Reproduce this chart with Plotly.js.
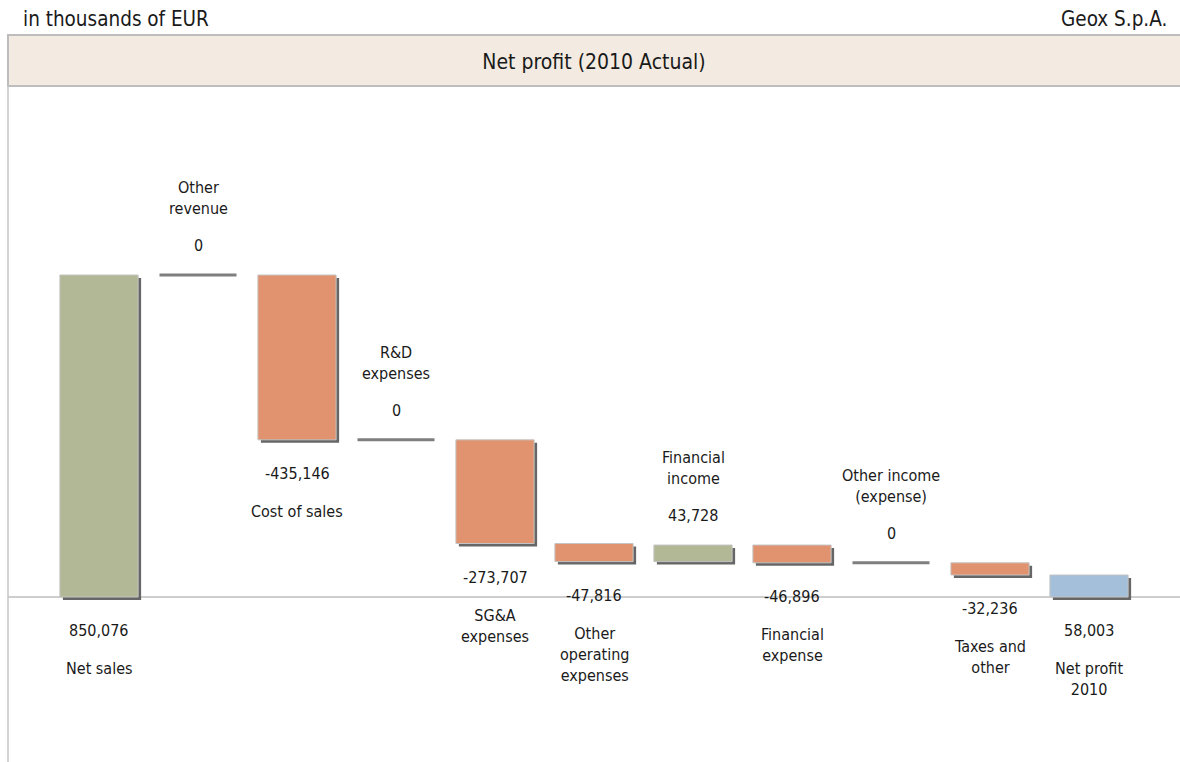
<!DOCTYPE html>
<html>
<head>
<meta charset="utf-8">
<script src="https://cdn.plot.ly/plotly-3.0.1.min.js"></script>
<style>html,body{margin:0;padding:0;background:#fff;}#chart{width:1180px;height:762px;}</style>
</head>
<body>
<div id="chart"></div>
<script>
// ---- data ----
var categories = ['Net sales','Other revenue','Cost of sales','R&D expenses','SG&A expenses',
  'Other operating expenses','Financial income','Financial expense','Other income (expense)',
  'Taxes and other','Net profit 2010'];
var categoryLabels = ['Net sales','Other<br>revenue','Cost of sales','R&D<br>expenses','SG&A<br>expenses',
  'Other<br>operating<br>expenses','Financial<br>income','Financial<br>expense','Other income<br>(expense)',
  'Taxes and<br>other','Net profit<br>2010'];
var values = [850076, 0, -435146, 0, -273707, -47816, 43728, -46896, 0, -32236, 58003];
var measures = ['relative','relative','relative','relative','relative','relative','relative',
  'relative','relative','relative','total'];
var labelSides = ['below','above','below','above','below','below','above','below','above','below','below'];

(function () {
// ---- styles ----
var FONT = '"DejaVu Sans Condensed", "DejaVu Sans", sans-serif';
var COL_UP = '#B2B895', COL_DOWN = '#E1936F', COL_TOTAL = '#A3BFD9';

// ---- derive waterfall geometry from data ----
var bases = [], heights = [], colors = [], levels = [];
var running = 0;
for (var i = 0; i < values.length; i++) {
  var v = values[i];
  if (measures[i] === 'total') {
    bases.push(0); heights.push(running); colors.push(COL_TOTAL); levels.push(running);
  } else {
    bases.push(v >= 0 ? running : running + v);
    heights.push(Math.abs(v) > 0 ? Math.abs(v) : null);
    colors.push(v >= 0 ? COL_UP : COL_DOWN);
    running += v;
    levels.push(running);
  }
}
var zeroX = [], zeroY = [];
for (var j = 0; j < values.length; j++) {
  if (values[j] === 0 && measures[j] !== 'total') { zeroX.push(categories[j]); zeroY.push(levels[j]); }
}

// ---- layout scale ----
var plotTop = 88, plotBottom = 762, zeroPx = 597, barRefPx = 322;
var unitsPerPx = values[0] / barRefPx;
var yRange = [-(plotBottom - zeroPx) * unitsPerPx, (zeroPx - plotTop) * unitsPerPx];
var catPx = 99, firstCenter = 99, leftPx = 8, rightPx = 1180;
var xRange = [(leftPx - firstCenter) / catPx, (rightPx - firstCenter) / catPx];
var shadowPx = 3;
var x2Range = [xRange[0] - shadowPx / catPx, xRange[1] - shadowPx / catPx];
var y2Range = [yRange[0] + shadowPx * unitsPerPx, yRange[1] + shadowPx * unitsPerPx];

var shadow = {
  type: 'bar', x: categories, y: heights, base: bases, width: 0.79,
  xaxis: 'x2', yaxis: 'y2', marker: {color: '#666666', line: {width: 0}},
  hoverinfo: 'skip', showlegend: false
};
var bars = {
  type: 'bar', x: categories, y: heights, base: bases, width: 0.79,
  xaxis: 'x3', yaxis: 'y3',
  marker: {color: colors, line: {color: '#C4C4C4', width: 1}},
  showlegend: false
};
var zeros = {
  type: 'scatter', mode: 'markers', x: zeroX, y: zeroY, xaxis: 'x3', yaxis: 'y3',
  marker: {symbol: 'line-ew', size: 55, line: {color: '#7F7F7F', width: 3}},
  showlegend: false, hoverinfo: 'skip'
};

var annotations = [];
var txtFont = {family: FONT, size: 16, color: '#1A1A1A'};
for (var k = 0; k < values.length; k++) {
  var valTxt = values[k].toLocaleString('en-US');
  if (measures[k] === 'total') valTxt = heights[k].toLocaleString('en-US');
  if (labelSides[k] === 'below') {
    annotations.push({x: categories[k], y: bases[k], xref: 'x3', yref: 'y3', text: valTxt,
      showarrow: false, yanchor: 'top', yshift: -22, font: txtFont});
    annotations.push({x: categories[k], y: bases[k], xref: 'x3', yref: 'y3', text: categoryLabels[k],
      showarrow: false, yanchor: 'top', yshift: -60, font: txtFont});
  } else {
    var barTop = values[k] === 0 ? levels[k] : bases[k] + heights[k];
    annotations.push({x: categories[k], y: barTop, xref: 'x3', yref: 'y3', text: valTxt,
      showarrow: false, yanchor: 'bottom', yshift: 18, font: txtFont});
    annotations.push({x: categories[k], y: barTop, xref: 'x3', yref: 'y3', text: categoryLabels[k],
      showarrow: false, yanchor: 'bottom', yshift: 55, font: txtFont});
  }
}
var plotH = plotBottom - plotTop;
function py(px) { return (plotBottom - px) / plotH; }
var headFont = {family: FONT, size: 20.5, color: '#1A1A1A'};
annotations.push({xref: 'paper', yref: 'paper', x: (21 - leftPx) / (rightPx - leftPx), y: py(19),
  xanchor: 'left', yanchor: 'middle', text: 'in thousands of EUR', showarrow: false, font: headFont});
annotations.push({xref: 'paper', yref: 'paper', x: (1169 - leftPx) / (rightPx - leftPx), y: py(19),
  xanchor: 'right', yanchor: 'middle', text: 'Geox S.p.A.', showarrow: false, font: headFont});

var hiddenX = {type: 'category', overlaying: 'x', visible: false, fixedrange: true};
var hiddenY = {overlaying: 'y', visible: false, fixedrange: true};

var layout = {
  width: 1180, height: 762,
  margin: {l: leftPx, r: 0, t: plotTop, b: 0, pad: 0},
  paper_bgcolor: '#FFFFFF', plot_bgcolor: 'rgba(0,0,0,0)',
  title: {text: 'Net profit (2010 Actual)', x: 0.5, xref: 'paper', y: 1 - 62 / 762, yanchor: 'middle',
    font: {family: FONT, size: 21, color: '#1A1A1A'}},
  barmode: 'overlay',
  xaxis: {type: 'category', range: xRange, visible: false, fixedrange: true},
  xaxis2: Object.assign({range: x2Range}, hiddenX),
  xaxis3: Object.assign({range: xRange}, hiddenX),
  yaxis: {range: yRange, visible: false, fixedrange: true},
  yaxis2: Object.assign({range: y2Range}, hiddenY),
  yaxis3: Object.assign({range: yRange}, hiddenY),
  shapes: [
    {type: 'rect', xref: 'paper', yref: 'paper', x0: 0, x1: 1.01, y0: py(86), y1: py(35),
      fillcolor: '#F3EBE1', line: {color: '#BDBDBD', width: 2}, layer: 'below'},
    {type: 'line', xref: 'paper', yref: 'y3', x0: 0, x1: 1, y0: 0, y1: 0,
      line: {color: '#BEBEBE', width: 1.5}, layer: 'below'},
    {type: 'line', xref: 'paper', yref: 'paper', x0: 0, x1: 0, y0: 0, y1: py(86),
      line: {color: '#C4C4C4', width: 1.5}, layer: 'below'}
  ],
  annotations: annotations
};

Plotly.newPlot('chart', [shadow, bars, zeros], layout, {displayModeBar: false, staticPlot: true});
})();
</script>
</body>
</html>
